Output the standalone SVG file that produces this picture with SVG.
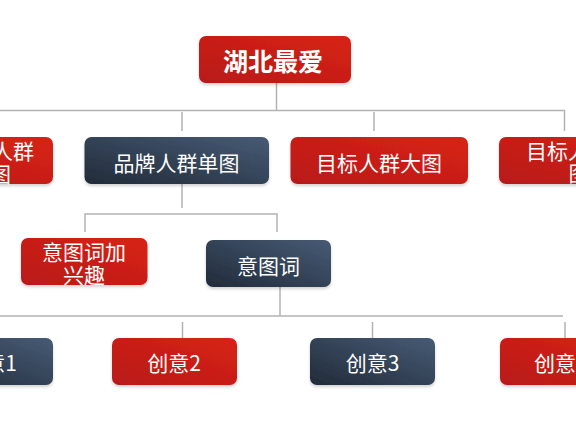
<svg xmlns="http://www.w3.org/2000/svg" width="576" height="432" viewBox="0 0 576 432">
  <style>
    .red { fill: url(#gRed); filter: url(#sh); }
    .dark { fill: url(#gDark); filter: url(#sh); }
    .t { font-family: "Noto Sans CJK SC", "Noto Sans", sans-serif; font-size: 21px; fill: #ffffff; text-anchor: middle; dominant-baseline: central; }
    .title { font-size: 25px; font-weight: bold; }
    .ln { stroke: #b3b3b3; stroke-width: 1.5; fill: none; }
  </style>
  <defs>
    <linearGradient id="gRed" x1="0" y1="1" x2="1" y2="0">
      <stop offset="0" stop-color="#b8191a"/>
      <stop offset="1" stop-color="#d82317"/>
    </linearGradient>
    <linearGradient id="gDark" x1="0" y1="1" x2="1" y2="0">
      <stop offset="0" stop-color="#212b39"/>
      <stop offset="1" stop-color="#475b75"/>
    </linearGradient>
    <filter id="sh" x="-10%" y="-20%" width="120%" height="150%">
      <feDropShadow dx="0" dy="2" stdDeviation="1.5" flood-color="#000000" flood-opacity="0.18"/>
    </filter>
  </defs>
  <rect width="576" height="432" fill="#ffffff"/>

  <g id="connectors">
    <path class="ln" d="M276.5 83 V110.5 M0 110.5 H564.5 V131"/>
    <path class="ln" d="M182 112 V131 M374 112 V131"/>
    <path class="ln" d="M182 184 V208"/>
    <path class="ln" d="M85 232 V214 H277 V232"/>
    <path class="ln" d="M280 287 V316 M0 316 H563"/>
    <path class="ln" d="M182.5 322 V338 M372.5 322 V338 M565 322 V338"/>
  </g>

  <g id="n-root">
    <rect class="red" x="199" y="36" width="152" height="47" rx="7"/>
    <text class="t title" x="273" y="60">湖北最爱</text>
  </g>
  <g id="n-left1">
    <rect class="red" x="-130" y="137" width="183" height="47" rx="7"/>
    <text class="t" x="34" y="149.5" style="text-anchor:end">人群</text>
    <text class="t" x="11" y="173" style="text-anchor:end">图</text>
  </g>
  <g id="n-brand">
    <rect class="dark" x="84.5" y="137" width="184.5" height="47" rx="7"/>
    <text class="t" x="176.5" y="161.5">品牌人群单图</text>
  </g>
  <g id="n-target">
    <rect class="red" x="290.5" y="137" width="177.5" height="47" rx="7"/>
    <text class="t" x="379" y="161.5">目标人群大图</text>
  </g>
  <g id="n-right1">
    <rect class="red" x="499" y="137" width="180" height="47" rx="7"/>
    <text class="t" x="526" y="149.5" style="text-anchor:start">目标人</text>
    <text class="t" x="568.5" y="172" style="text-anchor:start">图</text>
  </g>
  <g id="n-intent-interest">
    <rect class="red" x="21" y="238" width="126.5" height="47" rx="7"/>
    <text class="t" x="84" y="250.5">意图词加</text>
    <text class="t" x="84" y="273.5">兴趣</text>
  </g>
  <g id="n-intent">
    <rect class="dark" x="206" y="240" width="125" height="47" rx="7"/>
    <text class="t" x="268.5" y="264.5">意图词</text>
  </g>
  <g id="n-c1">
    <rect class="dark" x="-72" y="338" width="125" height="47" rx="7"/>
    <text class="t" x="17" y="362" style="text-anchor:end">意1</text>
  </g>
  <g id="n-c2">
    <rect class="red" x="112" y="338" width="125" height="47" rx="7"/>
    <text class="t" x="174" y="362">创意2</text>
  </g>
  <g id="n-c3">
    <rect class="dark" x="310" y="338" width="125" height="47" rx="7"/>
    <text class="t" x="372.5" y="362">创意3</text>
  </g>
  <g id="n-c4">
    <rect class="red" x="500" y="338" width="125" height="47" rx="7"/>
    <text class="t" x="534" y="362" style="text-anchor:start">创意</text>
  </g>
</svg>
